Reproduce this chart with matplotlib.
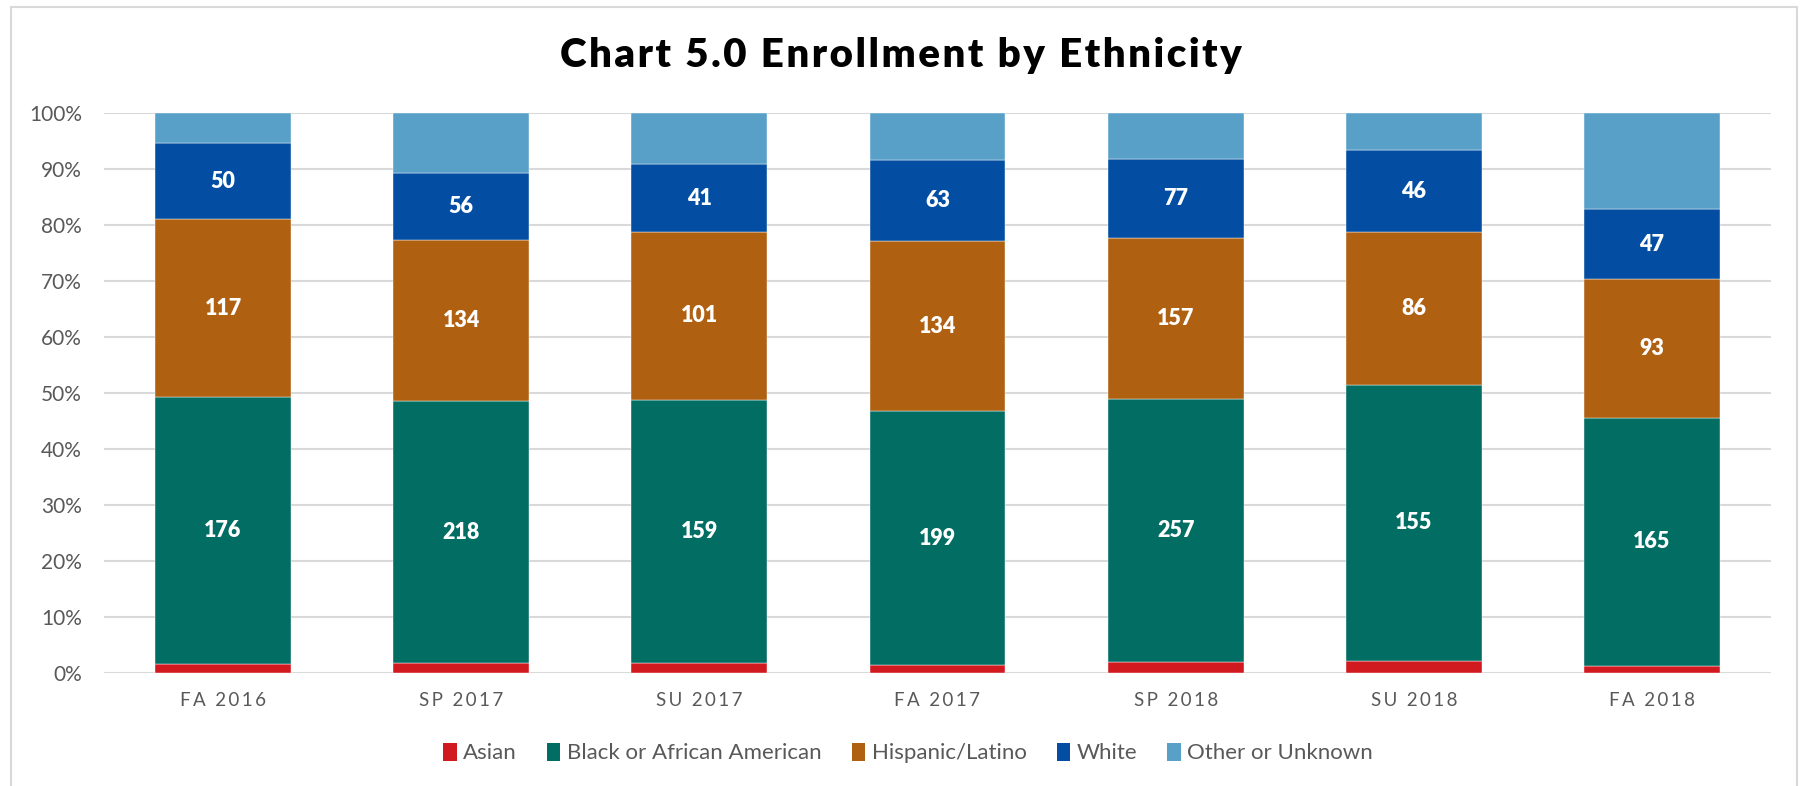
import numpy as np
import matplotlib.pyplot as plt
from matplotlib.patches import Rectangle, Patch
from matplotlib.ticker import PercentFormatter

# data (counts; Asian and Other)
terms = ['FA 2016', 'SP 2017', 'SU 2017', 'FA 2017', 'SP 2018', 'SU 2018', 'FA 2018']
asian = [6, 8, 6, 6, 11, 7, 5]
black = [176, 218, 159, 199, 257, 155, 165]
hispanic = [117, 134, 101, 134, 157, 86, 93]
white = [50, 56, 41, 63, 77, 46, 47]
other = [20, 50, 31, 37, 45, 21, 64]

groups = ['Asian', 'Black or African American', 'Hispanic/Latino', 'White', 'Other or Unknown']
colors = ['#D11920', '#016D63', '#AF6010', '#034EA2', '#58A0C8']
show_labels = [False, True, True, True, False]

FONT = ['Lato', 'DejaVu Sans']
plt.rcParams['font.family'] = FONT


def spaced(s, sep='\u2009'):
    return sep.join(s)


fig = plt.figure(figsize=(18.02, 7.86), dpi=100)
ax = fig.add_axes([104/1802, 1-673/786, (1771-104)/1802, (673-113)/786])

counts = np.array([asian, black, hispanic, white, other], dtype=float)
totals = counts.sum(axis=0)
shares = counts / totals

x = np.arange(len(terms))
bottom = np.zeros(len(terms))
for i in range(len(groups)):
    bars = ax.bar(x, shares[i], 0.57, bottom=bottom, color=colors[i],
                  edgecolor='white', linewidth=0.3, zorder=3)
    if show_labels[i]:
        for j, b in enumerate(bars):
            ax.text(b.get_x() + b.get_width()/2, bottom[j] + shares[i][j]/2,
                    str(int(counts[i][j])), ha='center', va='center',
                    color='white', fontsize=15.5, fontweight='heavy')
    bottom += shares[i]

ax.set_xlim(-0.5, len(terms) - 0.5)
ax.set_ylim(0, 1)
ax.set_yticks(np.arange(0, 1.01, 0.1))
ax.yaxis.set_major_formatter(PercentFormatter(1.0, decimals=0))
ax.set_xticks(x)
ax.set_xticklabels([spaced(t) for t in terms])
ax.tick_params(axis='y', length=0, pad=16, labelsize=15, labelcolor='#595959')
ax.tick_params(axis='x', length=0, pad=14, labelsize=13.5, labelcolor='#595959')
ax.grid(axis='y', color='#D9D9D9', linewidth=1.5, zorder=0)
for s in ax.spines.values():
    s.set_visible(False)

fig.text(0.5, 1-55/786, spaced('Chart 5.0 Enrollment by Ethnicity', '\u200a'),
         ha='center', va='center', fontsize=29, fontweight='heavy', color='black')

handles = [Patch(facecolor=c, label=g) for g, c in zip(groups, colors)]
fig.legend(handles=handles, loc='center', bbox_to_anchor=(0.504, 1-753/786), ncol=5,
           frameon=False, fontsize=16, handlelength=0.6, handleheight=0.9,
           handletextpad=0.3, columnspacing=1.35, labelcolor='#595959')

fig.patches.append(Rectangle((11/1802, -0.01), (1797-11)/1802, 1.01-7/786,
                             transform=fig.transFigure, fill=False,
                             edgecolor='#D9D9D9', linewidth=1.5))

fig.savefig('out.png', dpi=100)
